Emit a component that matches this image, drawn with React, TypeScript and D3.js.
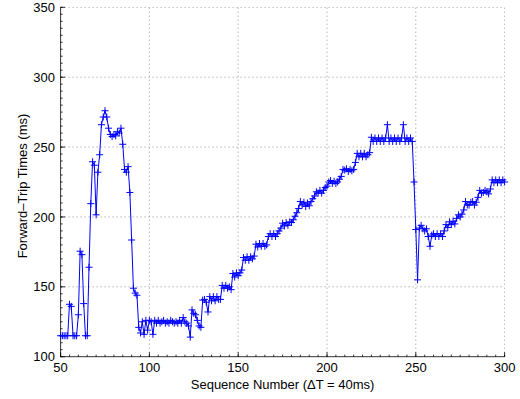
import React from "react";
import * as d3 from "d3";

// Sequence numbers start at 50, one sample per sequence number
const SEQ_START = 50;
const ftt050 = [115, 115, 115, 115, 115, 137.5, 136, 115, 115, 115];
const ftt060 = [130, 175.5, 173, 138, 115, 115, 164, 209.5, 239.5, 237];
const ftt070 = [201.5, 232, 244.5, 266, 271.5, 276, 271.5, 263.5, 259, 257.5];
const ftt080 = [259, 258, 261, 260, 263.5, 252, 234, 232, 236, 217.5];
const ftt090 = [183.5, 149, 145.5, 144, 121, 117, 125, 116, 126, 119];
const ftt100 = [126, 125, 116, 126, 124, 126, 124, 125, 126, 124];
const ftt110 = [125, 124, 126, 125, 124, 125, 124, 126, 124, 128];
const ftt120 = [125, 124, 122, 114, 133.5, 131, 130, 126, 122, 121];
const ftt130 = [140.5, 141, 139, 132, 143, 140, 143, 140, 143, 141];
const ftt140 = [141, 151, 149, 151, 149, 150, 148, 159.5, 157, 160];
const ftt150 = [158, 160, 162, 171, 169, 171.5, 169, 171.5, 170, 172];
const ftt160 = [180.5, 178.5, 181, 179, 181, 179, 180, 186, 188, 186];
const ftt170 = [188, 186, 188, 190, 192, 195.5, 193.5, 196, 194, 196.5];
const ftt180 = [196, 198, 200.5, 203, 206, 211, 208.5, 210.5, 207.5, 210];
const ftt190 = [208, 211, 213, 215, 218, 217, 219, 217, 219, 221];
const ftt200 = [222, 225, 226, 224, 225.5, 224, 225, 227, 229, 234];
const ftt210 = [233.5, 234.5, 232.5, 234, 233, 234, 239, 245.5, 243, 245.5];
const ftt220 = [243, 245.5, 243, 244.5, 246, 257, 254, 256.5, 254, 256.5];
const ftt230 = [254, 256.5, 254, 256.5, 266, 254, 256.5, 254, 256.5, 254];
const ftt240 = [256.5, 254, 256.5, 266, 254, 256.5, 254, 256.5, 254, 225];
const ftt250 = [191, 155, 192, 194, 191.5, 190, 191.5, 186, 179, 187];
const ftt260 = [188, 186, 188, 186, 188, 186, 190, 194.5, 192.5, 196.5];
const ftt270 = [194.5, 197, 195, 199, 201.5, 200, 202, 205, 211, 208.5];
const ftt280 = [208.5, 210.5, 211, 208.5, 210.5, 214, 219, 217, 217.5, 219];
const ftt290 = [218, 216.5, 220, 226.5, 224.5, 226.5, 224.5, 226.5, 224.5, 226.5, 225];

const xTicks = [50, 100, 150, 200, 250, 300];
const yTicks = [100, 150, 200, 250, 300, 350];

const X_LABEL = "Sequence Number (\u0394T = 40ms)";
const Y_LABEL = "Forward\u2013Trip Times (ms)";

const W = 520;
const H = 399;
const L = 60.6;
const R = 504.6;
const T = 7.3;
const B = 356.7;
const FONT = "'Liberation Sans', Arial, Helvetica, sans-serif";
const BLUE = "#0000ff";

export default function App() {
  const values = [
    ...ftt050, ...ftt060, ...ftt070, ...ftt080, ...ftt090,
    ...ftt100, ...ftt110, ...ftt120, ...ftt130, ...ftt140,
    ...ftt150, ...ftt160, ...ftt170, ...ftt180, ...ftt190,
    ...ftt200, ...ftt210, ...ftt220, ...ftt230, ...ftt240,
    ...ftt250, ...ftt260, ...ftt270, ...ftt280, ...ftt290,
  ];
  const data = values.map((v, i) => ({ seq: SEQ_START + i, v }));

  const x = d3.scaleLinear().domain([50, 300]).range([L, R]);
  const y = d3.scaleLinear().domain([100, 350]).range([B, T]);

  const line = d3
    .line<{ seq: number; v: number }>()
    .x((d) => x(d.seq))
    .y((d) => y(d.v));

  const xMinor = d3.range(50, 300.001, 5);
  const yMinor = d3.range(100, 350.001, 5);
  const m = 3.5;

  return (
    <svg
      width={W}
      height={H}
      style={{ position: "absolute", left: 0, top: 0, background: "#fff" }}
      fontFamily={FONT}
    >
      <rect x={0} y={0} width={W} height={H} fill="#fff" />
      {/* grid */}
      <g stroke="#000" strokeWidth={0.6} strokeDasharray="1 3" opacity={0.7}>
        {xTicks
          .filter((t) => t !== 50)
          .map((t) => (
            <line key={"gx" + t} x1={x(t)} x2={x(t)} y1={B} y2={T} />
          ))}
        {yTicks
          .filter((t) => t !== 100)
          .map((t) => (
            <line key={"gy" + t} x1={L} x2={R} y1={y(t)} y2={y(t)} />
          ))}
      </g>
      {/* axes */}
      <g stroke="#000" strokeWidth={0.8}>
        <line x1={L} x2={R} y1={B} y2={B} />
        <line x1={L} x2={L} y1={B} y2={T} />
        {xMinor.map((t) => (
          <line key={"xm" + t} x1={x(t)} x2={x(t)} y1={B} y2={B - 2} />
        ))}
        {yMinor.map((t) => (
          <line key={"ym" + t} x1={L} x2={L + 2} y1={y(t)} y2={y(t)} />
        ))}
        {xTicks.map((t) => (
          <line key={"xt" + t} x1={x(t)} x2={x(t)} y1={B} y2={B - 4.5} />
        ))}
        {yTicks.map((t) => (
          <line key={"yt" + t} x1={L} x2={L + 4.5} y1={y(t)} y2={y(t)} />
        ))}
      </g>
      {/* tick labels */}
      <g fontSize={13} fill="#000">
        {xTicks.map((t) => (
          <text key={"xl" + t} x={x(t)} y={372} textAnchor="middle">
            {t}
          </text>
        ))}
        {yTicks.map((t) => (
          <text key={"yl" + t} x={55} y={y(t) + 4.6} textAnchor="end">
            {t}
          </text>
        ))}
      </g>
      <text x={(L + R) / 2} y={389} textAnchor="middle" fontSize={13} fill="#000">
        {X_LABEL}
      </text>
      <text
        transform={`translate(26.5, 186) rotate(-90)`}
        textAnchor="middle"
        fontSize={13}
        fill="#000"
      >
        {Y_LABEL}
      </text>
      {/* series */}
      <path d={line(data) ?? ""} fill="none" stroke={BLUE} strokeWidth={1} />
      <g stroke={BLUE} strokeWidth={1}>
        {data.map((d) => (
          <g key={"p" + d.seq}>
            <line x1={x(d.seq) - m} x2={x(d.seq) + m} y1={y(d.v)} y2={y(d.v)} />
            <line x1={x(d.seq)} x2={x(d.seq)} y1={y(d.v) - m} y2={y(d.v) + m} />
          </g>
        ))}
      </g>
    </svg>
  );
}
